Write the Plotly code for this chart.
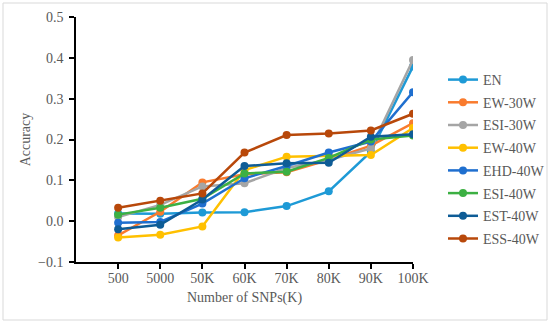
import plotly.graph_objects as go

categories = ["500", "5000", "50K", "60K", "70K", "80K", "90K", "100K"]

series_names = ["EN", "EW-30W", "ESI-30W", "EW-40W", "EHD-40W", "ESI-40W", "EST-40W", "ESS-40W"]

en      = [0.019, 0.018, 0.021, 0.022, 0.037, 0.073, 0.170, 0.379]
ew_30w  = [-0.035, 0.023, 0.095, 0.115, 0.120, 0.150, 0.185, 0.240]
esi_30w = [0.010, 0.040, 0.085, 0.093, 0.130, 0.150, 0.178, 0.395]
ew_40w  = [-0.040, -0.033, -0.013, 0.125, 0.158, 0.160, 0.162, 0.228]
ehd_40w = [-0.004, -0.002, 0.043, 0.105, 0.135, 0.168, 0.195, 0.316]
esi_40w = [0.016, 0.033, 0.055, 0.117, 0.121, 0.155, 0.200, 0.210]
est_40w = [-0.020, -0.009, 0.053, 0.135, 0.142, 0.143, 0.207, 0.213]
ess_40w = [0.033, 0.050, 0.068, 0.168, 0.211, 0.215, 0.222, 0.263]

series_values = [en, ew_30w, esi_30w, ew_40w, ehd_40w, esi_40w, est_40w, ess_40w]
colors = ["#1E9AD6", "#F97B2E", "#A5A5A5", "#FFC000", "#1F6FCF", "#3CB043", "#0E5C96", "#B8480A"]

font_family = "Liberation Serif"
text_color = "#595959"
fs = 14

fig = go.Figure()
for name, vals, col in zip(series_names, series_values, colors):
    fig.add_trace(go.Scatter(
        x=categories, y=vals, name=name, mode="lines+markers",
        line=dict(color=col, width=2.5),
        marker=dict(color=col, size=8),
        legendgroup=name,
    ))

# plot area in pixels: x 76..413, y 17..262
L, R, T, B = 76, 413, 17, 262
W, H = 550, 324

def px_x(p):
    return (p - L) / (R - L)

def px_y(p):
    return (B - p) / (B - T)

fig.update_layout(
    width=W, height=H,
    margin=dict(l=L, r=W - R, t=T, b=H - B, autoexpand=False),
    paper_bgcolor="white", plot_bgcolor="white",
    font=dict(family=font_family, size=fs, color=text_color),
    showlegend=True,
    legend=dict(
        x=px_x(443), y=px_y(64), xanchor="left", yanchor="top",
        traceorder="grouped", tracegroupgap=1.5,
        font=dict(family=font_family, size=fs, color=text_color),
        bgcolor="rgba(0,0,0,0)", itemwidth=30,
    ),
    xaxis=dict(
        type="category", range=[-1, 7],
        showline=True, linecolor="black", linewidth=1.5,
        ticks="outside", ticklen=5, tickcolor="black", tickwidth=1.5,
        ticklabelstandoff=-3,
        showgrid=False, zeroline=False,
        title=dict(text="Number of SNPs(K)", font=dict(size=fs, color=text_color), standoff=8),
        tickfont=dict(size=fs, color=text_color),
    ),
    yaxis=dict(
        range=[-0.1, 0.5], dtick=0.1, tick0=0, tickformat=".1f",
        showline=True, linecolor="black", linewidth=1.5,
        ticks="outside", ticklen=5, tickcolor="black", tickwidth=1.5,
        ticklabelstandoff=3,
        showgrid=False, zeroline=False,
        title=dict(text="Accuracy", font=dict(size=fs, color=text_color), standoff=4),
        tickfont=dict(size=fs, color=text_color),
    ),
    shapes=[dict(
        type="rect", xref="paper", yref="paper",
        x0=px_x(3), x1=px_x(547), y0=px_y(320), y1=px_y(3),
        line=dict(color="#D9D9D9", width=1), fillcolor="rgba(0,0,0,0)", layer="below",
    )],
)

fig.write_html("out.html", config={"displayModeBar": False},
               post_script="document.body.style.margin='0';")
